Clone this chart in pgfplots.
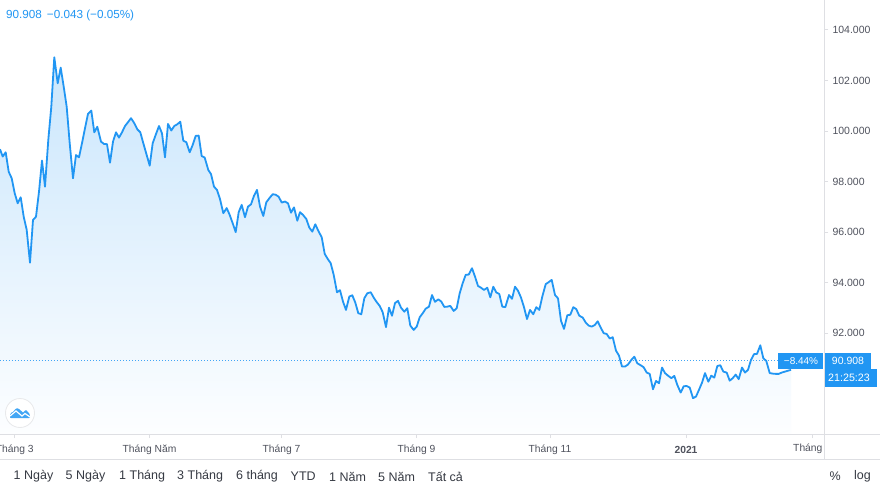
\documentclass[border=0pt]{standalone}
\usepackage{fontspec}
\usepackage{pgfplots}
\usepackage{pgfplotstable}
\pgfplotsset{compat=1.18}
\setmainfont{Liberation Sans}
\definecolor{tvblue}{HTML}{2196F3}
\definecolor{axgrey}{HTML}{DEDFE3}
\definecolor{txt}{HTML}{50535E}
\definecolor{dark}{HTML}{131722}
\pgfplotstableread{
x y
0 99.28
2.7 98.99
5.7 99.16
8.7 98.39
11.7 98.13
14.7 97.54
17.7 97.14
20.7 97.38
23.7 96.61
26.7 96.09
30 94.79
33 96.48
36 96.61
39 97.60
42 98.83
45 97.80
48.3 99.65
51.3 100.96
54.3 102.92
57.7 101.89
60.7 102.51
63.7 101.76
66.7 100.96
69.7 99.52
73 98.13
76 99.05
79 98.96
82 99.52
85 100.11
88 100.68
91.3 100.81
94.3 99.95
97.3 100.17
101 99.58
104 99.49
107 99.48
110 98.75
113 99.58
116 99.95
119 99.74
122 99.95
125 100.20
128 100.35
131 100.51
134.3 100.31
137.3 100.07
140.3 99.95
143.3 99.52
146.7 99.05
149.7 98.63
152.7 99.52
155.7 99.85
159 100.20
162 99.91
165 98.96
168 100.28
171.3 100.02
174.3 100.20
177.3 100.27
180.3 100.37
183.3 99.62
186.3 99.56
189.7 99.16
192.7 99.45
195.7 99.81
198.7 99.82
201.7 99.01
204.7 98.95
208.3 98.46
211 98.30
214 97.80
217 97.67
220 97.31
223.3 96.75
226.7 96.95
229.7 96.68
232.7 96.35
235.7 96.00
238.7 96.79
241.7 97.08
245 96.59
248 97.01
251 97.10
254 97.44
257 97.67
260 97.01
263.3 96.64
266.3 97.18
269.3 97.34
272.7 97.50
275.7 97.48
278.7 97.40
281.7 97.17
285 97.21
288 97.14
291 96.77
294 96.98
297.3 96.45
300 96.79
303 96.68
306.3 96.52
309.3 96.18
312.3 96.02
315.3 96.31
318.7 96.02
321.7 95.80
324.7 95.14
327.7 94.94
330.7 94.77
333.7 94.31
337 93.62
340 93.70
343 93.25
346 92.92
349.3 93.45
352.3 93.50
355.3 93.21
358.3 92.79
361.3 92.75
364.3 93.38
367.3 93.58
370.7 93.62
373.7 93.41
376.7 93.23
379.7 93.08
382.7 92.83
386 92.24
389 93.01
392 92.69
395 93.19
398 93.28
401 93.01
404.3 92.85
407.3 92.99
410.3 92.30
413.7 92.13
416.7 92.26
419.7 92.63
422.7 92.79
425.7 92.97
429 93.05
432 93.51
435 93.24
438.3 93.34
441.3 93.25
444.3 93.04
447.3 93.05
450.3 93.08
453.7 92.88
456.7 92.99
459.7 93.58
462.7 93.98
465.7 94.31
468.7 94.32
472 94.57
475 94.24
478 93.87
481 93.80
484 93.71
487.3 93.80
490.3 93.42
493.3 93.84
496.3 93.61
499.3 93.55
502.3 93.05
505.3 93.03
509 93.51
512 93.36
515 93.84
518 93.68
521 93.41
524 93.03
527 92.56
530 92.92
533.3 92.75
536.3 93.03
539.3 92.92
542.3 93.45
545.7 93.94
548.7 94.02
551.7 94.11
555 93.51
558 93.38
561 92.49
564 92.17
567.3 92.71
570.3 92.73
573.3 93.03
576.3 92.95
579.3 92.69
582.7 92.62
585.7 92.42
588.7 92.30
591.7 92.26
594.7 92.32
597.7 92.47
600.7 92.22
603.7 92.00
606.7 91.97
609.7 91.79
612.7 91.84
616 91.31
619 91.11
622 90.68
625 90.68
628 90.76
631.3 90.94
634.3 91.07
637.3 90.81
640.7 90.73
643.7 90.65
646.7 90.44
649.7 90.39
653 89.78
656 90.11
659 90.02
662 90.64
665 90.42
668.3 90.31
671.3 90.22
674.3 90.31
677.3 89.95
680.7 89.65
683.7 89.90
686.7 89.91
689.7 89.85
693 89.43
696 89.49
699 89.76
702 90.04
705 90.42
708.3 90.08
711.3 90.32
714.3 90.24
717.3 90.70
720.3 90.73
723.3 90.48
726.7 90.44
729.7 90.12
732.7 90.22
735.7 90.36
738.7 90.18
742 90.64
745 90.44
748 90.55
751 90.94
754 91.17
757 91.18
760.3 91.52
763.3 91.01
766.3 90.90
769.7 90.42
772.7 90.40
775.7 90.39
778.7 90.39
781.7 90.44
785 90.48
791 90.55
}\dataA
\begin{document}
\begin{tikzpicture}[x=1pt,y=1pt]
\clip (0,0) rectangle (880,493);
\fill[white] (0,0) rectangle (880,493);
\begin{axis}[
  at={(0pt,59pt)}, anchor=south west,
  scale only axis, width=824pt, height=434pt,
  xmin=0, xmax=824, ymin=88.01, ymax=105.187,
  axis x line*=bottom, axis y line*=right,
  axis line style={draw=axgrey, -},
  tick style={draw=axgrey, line width=1pt},
  tick align=outside, major tick length=4pt,
  xtick={14.7,149.5,281.5,416.5,550,686,812},
  xticklabels={Tháng 3,Tháng Năm,Tháng 7,Tháng 9,Tháng 11,\textbf{2021},},
  ytick={92,94,96,98,100,102,104},
  extra y ticks={90}, extra y tick labels={},
  yticklabel style={/pgf/number format/fixed, /pgf/number format/fixed zerofill, /pgf/number format/precision=3, /pgf/number format/assume math mode=true, /pgf/number format/1000 sep={}, font=\fontsize{10.5}{13}\selectfont, text=txt, anchor=west, xshift=1pt},
  xticklabel style={font=\fontsize{10.3}{13}\selectfont, text=txt, anchor=center, yshift=-11.5pt},
  clip=true,
]
\addplot[draw=none, shade, shading angle=0, top color=tvblue!24!white, bottom color=tvblue!1!white] table[x=x,y=y] {\dataA} \closedcycle;
\addplot[draw=tvblue!85!white, line width=1pt, dash pattern=on 1pt off 2pt, forget plot] coordinates {(0,90.908) (824,90.908)};
\addplot[draw=tvblue, line width=1.8pt, line join=round, mark=none] table[x=x,y=y] {\dataA};
\end{axis}
% panel rules
\draw[axgrey, line width=1pt] (0,59) -- (880,59);
\draw[axgrey, line width=1pt] (0,34) -- (880,34);
\draw[axgrey, line width=1pt] (824,34) -- (824,493);
% header
\node[anchor=west, text=tvblue, font=\fontsize{11.7}{13}\selectfont, inner sep=0pt] at (6,478) {90.908\hspace{5pt}−0.043 (−0.05\%)};
% price labels
\fill[tvblue] (778,124) rectangle (823,140);
\fill[tvblue] (825,124) rectangle (871,140);
\fill[tvblue] (825,106) rectangle (877,124);
\node[text=white, font=\fontsize{10}{13}\selectfont, inner sep=0pt] at (801,132) {−8.44\%};
\node[text=white, font=\fontsize{10.5}{13}\selectfont, inner sep=0pt] at (848,132) {90.908};
\node[text=white, font=\fontsize{10.7}{13}\selectfont, inner sep=0pt] at (849,115) {21:25:23};
% clipped last month label
\node[anchor=west, text=txt, font=\fontsize{10.3}{13}\selectfont, inner sep=0pt] at (793,44.5) {Tháng};
% logo
\draw[draw=axgrey!70!white, fill=white, line width=0.8pt] (20,80) circle (14.5);
\fill[tvblue!85!white] (10,75.5) -- (10,78) .. controls (10,80) and (12,81) .. (13,81) -- (15.5,84) .. controls (16.5,85) and (18,85) .. (19,84) -- (23,80.5) -- (25,82.5) .. controls (26,83) and (27,83) .. (27.5,81.5) .. controls (29.5,80.5) and (30,78) .. (30,76) .. controls (30,75.5) and (29.5,75) .. (29,75) -- (11,75) -- cycle;
\draw[white, line width=1.2pt] (10,77) -- (16,82) -- (22,77) -- (25,79.5) -- (30,76);
% range buttons
\begin{scope}[every node/.style={anchor=west, inner sep=0pt, text=dark!85!white, font=\fontsize{12.5}{14}\selectfont}]
\node at (13.5,16.5) {1 Ngày};
\node at (65.5,16.5) {5 Ngày};
\node at (119,16.5) {1 Tháng};
\node at (177,16.5) {3 Tháng};
\node at (236,16.5) {6 tháng};
\node at (290.5,16.5) {YTD};
\node at (329,16.5) {1 Năm};
\node at (378,16.5) {5 Năm};
\node at (428,16.5) {Tất cả};
\node at (829.5,16.5) {\%};
\node at (854,16.5) {log};
\end{scope}
\end{tikzpicture}
\end{document}
